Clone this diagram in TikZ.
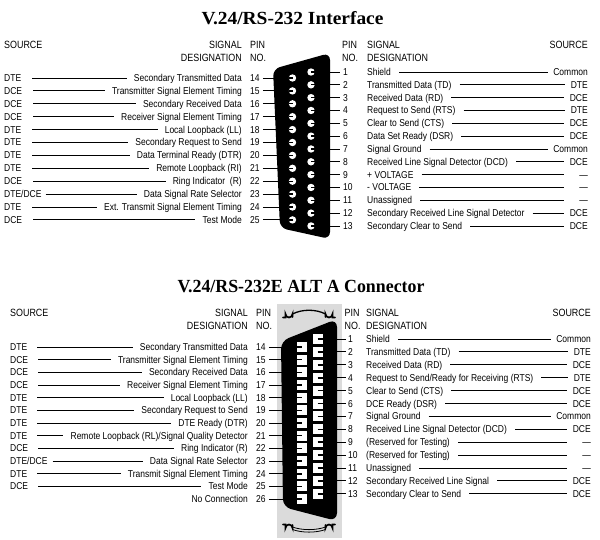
\documentclass[tikz,border=0pt]{standalone}
\usepackage{fontspec}
\setmainfont{Liberation Sans}
\newfontfamily\cond{Liberation Sans}[FakeStretch=0.85]
\newfontfamily\titleA{Liberation Serif}[FakeStretch=1.05]
\newfontfamily\titleB{Liberation Serif}[FakeStretch=0.965]
\usetikzlibrary{calc}
\begin{document}
\begin{tikzpicture}[x=1pt,y=-1pt,
  txt/.style={inner sep=0pt,text height=7pt,text depth=0pt,font=\cond\fontsize{10}{11}\selectfont},
  hdr/.style={inner sep=0pt,text height=7.5pt,text depth=0pt,font=\cond\fontsize{10.5}{12}\selectfont},
  wire/.style={line width=0.85pt},
  lead/.style={line width=0.85pt},
  pinc/.style={fill=white,draw=none},
  notch/.style={line width=1.3pt,draw=black},
  clamp/.style={line width=1.7pt,line cap=round}]
\useasboundingbox[fill=white] (0,0) rectangle (600,540);

% ================= TOP =================
\node[inner sep=0pt,anchor=base,font=\titleA\bfseries\fontsize{18.5}{20}\selectfont] (t1) at (292.5,25) {V.24/RS-232 Interface};

\node[hdr,anchor=west] (h1s) at (4,45) {SOURCE};
\node[hdr,anchor=east] (h1g) at (242,45) {SIGNAL};
\node[hdr,anchor=east] (h1d) at (242,58) {DESIGNATION};
\node[hdr,anchor=west] (h1p) at (250,45) {PIN};
\node[hdr,anchor=west] (h1n) at (250,58) {NO.};
\node[hdr,anchor=west] (h1p2) at (342,45) {PIN};
\node[hdr,anchor=west] (h1n2) at (342,58) {NO.};
\node[hdr,anchor=west] (h1g2) at (367,45) {SIGNAL};
\node[hdr,anchor=west] (h1d2) at (367,58) {DESIGNATION};
\node[hdr,anchor=east] (h1s2) at (588,45) {SOURCE};

% left rows
\foreach \p/\s/\d/\g in {
  14/DTE/Secondary Transmitted Data/11,
  15/DCE/Transmitter Signal Element Timing/11,
  16/DCE/Secondary Received Data/11,
  17/DCE/Receiver Signal Element Timing/11,
  18/DTE/Local Loopback (LL)/11,
  19/DTE/Secondary Request to Send/11,
  20/DTE/Data Terminal Ready (DTR)/11,
  21/DTE/Remote Loopback (RI)/11,
  22/DCE/Ring Indicator\ \ (R)/11,
  23/{DTE/DCE}/Data Signal Rate Selector/4,
  24/DTE/Ext. Transmit Signal Element Timing/11,
  25/DCE/Test Mode/11}{
  \pgfmathsetmacro\yy{78+12.9*(\p-14)}
  \node[txt,anchor=west] (tls\p) at (4,\yy) {\s};
  \node[txt,anchor=east] (tld\p) at (242,\yy) {\d};
  \node[txt,anchor=west] (tlp\p) at (250,\yy) {\p};
  \coordinate (tlc\p) at (288,\yy);
  \draw[wire] ([xshift=\g pt]tls\p.east) -- ([xshift=-7pt]tld\p.west);
  \draw[lead] ([xshift=3pt]tlp\p.east) -- (tlc\p);
}
% right rows
\foreach \p/\d/\s/\g in {
  1/Shield/Common/5,
  2/Transmitted Data (TD)/DTE/6,
  3/Received Data (RD)/DCE/6,
  4/Request to Send (RTS)/DTE/6,
  5/Clear to Send (CTS)/DCE/6,
  6/Data Set Ready (DSR)/DCE/6,
  7/Signal Ground/Common/5,
  8/Received Line Signal Detector (DCD)/DCE/6,
  9/+ VOLTAGE/—/15,
  10/- VOLTAGE/—/15,
  11/Unassigned/—/15,
  12/Secondary Received Line Signal Detector/DCE/6,
  13/Secondary Clear to Send/DCE/6}{
  \pgfmathsetmacro\yy{72+12.83*(\p-1)}
  \node[txt,anchor=west] (trp\p) at (343,\yy) {\p};
  \node[txt,anchor=west] (trd\p) at (367,\yy) {\d};
  \node[txt,anchor=east] (trs\p) at (588,\yy) {\s};
  \coordinate (trc\p) at (322,\yy);
  \draw[wire] ([xshift=8pt]trd\p.east) -- ([xshift=-\g pt]trs\p.west);
  \draw[lead] (trc\p) -- ([xshift=-3pt]trp\p.west);
}
% connector body (top)
\fill[black,rounded corners=7pt] (273,69) -- (330,53) -- (330,239) -- (280,228) -- cycle;
\foreach \p in {14,...,25}{
  \pgfmathsetmacro\yy{78+12.9*(\p-14)}
  \fill[pinc] (292.5,\yy) circle (3.7);
  \draw[notch] (288.8,\yy) -- (292.5,\yy);
}
\foreach \p in {1,...,13}{
  \pgfmathsetmacro\yy{72+12.83*(\p-1)}
  \fill[pinc] (311,\yy) circle (3.7);
  \draw[notch] (311,\yy) -- (314.7,\yy);
}

% ================= BOTTOM =================
\node[inner sep=0pt,anchor=base,font=\titleB\bfseries\fontsize{18.5}{20}\selectfont] (t2) at (301,293) {V.24/RS-232E ALT A Connector};

\node[hdr,anchor=west] (h2s) at (10,313) {SOURCE};
\node[hdr,anchor=east] (h2g) at (248,313) {SIGNAL};
\node[hdr,anchor=east] (h2d) at (248,326) {DESIGNATION};
\node[hdr,anchor=west] (h2p) at (256,313) {PIN};
\node[hdr,anchor=west] (h2n) at (256,326) {NO.};
\node[hdr,anchor=west] (h2p2) at (344.5,313) {PIN};
\node[hdr,anchor=west] (h2n2) at (344.5,326) {NO.};
\node[hdr,anchor=west] (h2g2) at (366,313) {SIGNAL};
\node[hdr,anchor=west] (h2d2) at (366,326) {DESIGNATION};
\node[hdr,anchor=east] (h2s2) at (591,313) {SOURCE};

% gray plate
\fill[gray!28] (277,304) rectangle (342,538);

\foreach \p/\s/\d/\g in {
  14/DTE/Secondary Transmitted Data/10,
  15/DCE/Transmitter Signal Element Timing/10,
  16/DCE/Secondary Received Data/10,
  17/DCE/Receiver Signal Element Timing/10,
  18/DTE/Local Loopback (LL)/10,
  19/DTE/Secondary Request to Send/10,
  20/DTE/DTE Ready (DTR)/10,
  21/DTE/{Remote Loopback (RL)/Signal Quality Detector}/10,
  22/DCE/Ring Indicator (R)/10,
  23/{DTE/DCE}/Data Signal Rate Selector/5,
  24/DTE/Transmit Signal Element Timing/10,
  25/DCE/Test Mode/10}{
  \pgfmathsetmacro\yy{347+12.67*(\p-14)}
  \node[txt,anchor=west] (bls\p) at (10,\yy) {\s};
  \node[txt,anchor=east] (bld\p) at (248,\yy) {\d};
  \node[txt,anchor=west] (blp\p) at (256,\yy) {\p};
  \coordinate (blc\p) at (292,\yy);
  \draw[wire] ([xshift=\g pt]bls\p.east) -- ([xshift=-7pt]bld\p.west);
  \draw[lead] ([xshift=3pt]blp\p.east) -- (blc\p);
}
\pgfmathsetmacro\yy{347+12.67*12}
\node[txt,anchor=east] (bld26) at (248,\yy) {No Connection};
\node[txt,anchor=west] (blp26) at (256,\yy) {26};
\coordinate (blc26) at (292,\yy);
\draw[lead] ([xshift=3pt]blp26.east) -- (blc26);

\foreach \p/\d/\s/\g in {
  1/Shield/Common/5,
  2/Transmitted Data (TD)/DTE/6,
  3/Received Data (RD)/DCE/6,
  4/{Request to Send/Ready for Receiving (RTS)}/DTE/6,
  5/Clear to Send (CTS)/DCE/6,
  6/DCE Ready (DSR)/DCE/6,
  7/Signal Ground/Common/5,
  8/Received Line Signal Detector (DCD)/DCE/6,
  9/(Reserved for Testing)/—/15,
  10/(Reserved for Testing)/—/15,
  11/Unassigned/—/15,
  12/Secondary Received Line Signal/DCE/6,
  13/Secondary Clear to Send/DCE/6}{
  \pgfmathsetmacro\yy{339+12.9*(\p-1)}
  \node[txt,anchor=west] (brp\p) at (348,\yy) {\p};
  \node[txt,anchor=west] (brd\p) at (366,\yy) {\d};
  \node[txt,anchor=east] (brs\p) at (591,\yy) {\s};
  \coordinate (brc\p) at (330,\yy);
  \draw[wire] ([xshift=8pt]brd\p.east) -- ([xshift=-\g pt]brs\p.west);
  \draw[lead] (brc\p) -- ([xshift=-2.5pt]brp\p.west);
}
% body
\fill[black,rounded corners=8pt] (281,341) -- (337,319) -- (337,521) -- (283,507) -- cycle;
\foreach \p in {14,...,26}{
  \pgfmathsetmacro\yy{347+12.67*(\p-14)}
  \fill[pinc] (296.5,\yy-5) rectangle (306.5,\yy+5);
  \draw[line width=1.6pt] (296.5,\yy) -- (302,\yy);
}
\foreach \p in {1,...,13}{
  \pgfmathsetmacro\yy{339+12.9*(\p-1)}
  \fill[pinc] (313,\yy-5) rectangle (323,\yy+5);
  \draw[line width=1.6pt] (317.5,\yy) -- (323,\yy);
}
% clamps
\draw[clamp] (283,317.5) -- (285.5,317.5) -- (285.5,314) arc (180:0:3.5) -- (292.5,317);
\draw[clamp] (325.5,317) -- (325.5,314) arc (180:0:3.5) -- (332.5,317.5) -- (335,317.5);
\draw[line width=1.3pt] (292.5,314) .. controls (302,309) and (316,309) .. (325.5,314);
\draw[clamp] (283,524.5) -- (285.5,524.5) -- (285.5,528) arc (180:360:3.5) -- (292.5,525);
\draw[clamp] (325.5,525) -- (325.5,528) arc (180:360:3.5) -- (332.5,524.5) -- (335,524.5);
\draw[line width=0.8pt] (292.5,527) .. controls (302,530.5) and (316,530.5) .. (325.5,527);
\draw[line width=0.8pt] (292.5,529.5) .. controls (302,533) and (316,533) .. (325.5,529.5);
\end{tikzpicture}
\end{document}
